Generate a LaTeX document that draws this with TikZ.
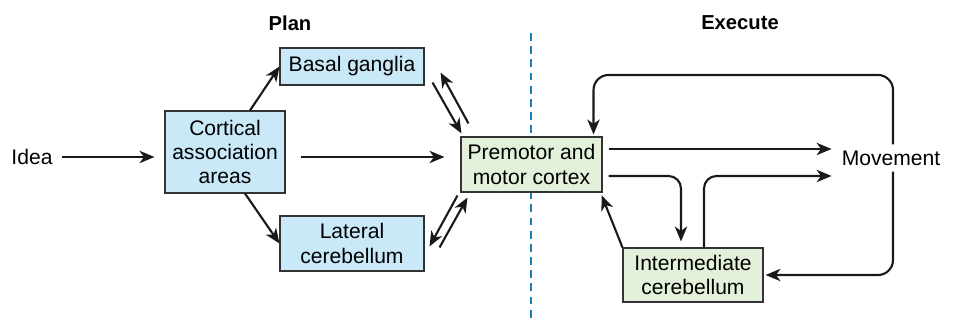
\documentclass[tikz,border=0pt]{standalone}
\usepackage{fontspec}
\setmainfont{Liberation Sans}
\usetikzlibrary{positioning, arrows.meta}
\definecolor{planblue}{HTML}{C9E9F9}
\definecolor{execgreen}{HTML}{E3F0DA}
\definecolor{divblue}{HTML}{1A7FB8}

\begin{document}
\begin{tikzpicture}[
      >={Stealth[length=8.5pt,width=7pt,inset=2.5pt]},
      every node/.style={font=\fontsize{12}{13.7}\selectfont},
      box/.style={draw=black!80,line width=0.6pt,align=center,inner sep=2pt},
      planbox/.style={box,fill=planblue},
      execbox/.style={box,fill=execgreen},
      conn/.style={->,line width=1.2pt,black!90},
      head/.style={font=\fontsize{11.5}{13}\selectfont\bfseries}
    ]
    \useasboundingbox (0,0) rectangle (19.16,-6.42);

    % plan / execute divider
    \coordinate (divtop) at (10.62,-0.66);
    \coordinate (divbot) at (10.62,-6.42);
    \draw[divblue,line width=0.9pt,dash pattern=on 4.5pt off 3pt] (divtop) -- (divbot);

    % headings
    \node[head] (plan) at (5.8,-0.46) {Plan};
    \node[head] (exec) at (14.8,-0.46) {Execute};

    % boxes
    \node (idea) at (0.64,-3.14) {Idea};
    \node[planbox,minimum width=2.4cm,minimum height=1.64cm] (cort) at (4.5,-3.04)
      {Cortical\\association\\areas};
    \node[planbox,minimum width=2.88cm,minimum height=0.74cm] (basal) at (7.04,-1.33)
      {Basal ganglia};
    \node[planbox,minimum width=2.88cm,minimum height=1.1cm] (lat) at (7.04,-4.87)
      {Lateral\\cerebellum};
    \node[execbox,minimum width=2.82cm,minimum height=1.1cm] (prem) at (10.63,-3.29)
      {Premotor and\\motor cortex};
    \node[execbox,minimum width=2.8cm,minimum height=1.08cm] (inter) at (13.86,-5.5)
      {Intermediate\\cerebellum};
    \node (mov) at (17.82,-3.16) {Movement};

    % plan side
    \draw[conn,shorten <=0.06cm,shorten >=0.2cm] (idea) -- (cort.west |- idea);
    \draw[conn,shorten <=0.3cm,shorten >=0.32cm] (cort.east |- idea) -- (prem.west |- idea);
    \draw[conn] ([xshift=0.5cm]cort.north) -- (basal.west);
    \draw[conn] ([xshift=0.4cm]cort.south) -- (lat.west);

    % loops with premotor
    \draw[conn] ([shift={(0.16,0.06)}]basal.south east) -- ([shift={(0.02,0.06)}]prem.north west);
    \draw[conn] ([shift={(0.16,0.26)}]prem.north west) -- ([shift={(0.32,0.26)}]basal.south east);
    \draw[conn] ([shift={(-0.06,-0.06)}]prem.south west) -- ([shift={(0.1,-0.62)}]lat.north east);
    \draw[conn] ([shift={(0.3,-0.64)}]lat.north east) -- ([shift={(0.14,-0.1)}]prem.south west);

    % execute side
    \coordinate (pm1) at ([yshift=0.31cm]prem.east);
    \coordinate (pm2) at ([yshift=-0.23cm]prem.east);
    \draw[conn,shorten <=0.12cm,shorten >=0.08cm] (pm1) -- (pm1 -| mov.west);
    \draw[conn,rounded corners=0.25cm,shorten <=0.12cm,shorten >=0.12cm]
      (pm2) -| ([xshift=-0.24cm]inter.north);
    \draw[conn,rounded corners=0.25cm,shorten >=0.08cm]
      ([xshift=0.22cm]inter.north) |- (pm2 -| mov.west);
    \draw[conn,shorten >=0.06cm] (inter.north west) -- ([xshift=-0.04cm]prem.south east);

    % feedback round movement
    \coordinate (movN) at ([xshift=0.04cm]mov.north);
    \coordinate (movS) at ([xshift=0.04cm]mov.south);
    \coordinate (premN) at ([xshift=-0.18cm]prem.north east);
    \coordinate (loopT) at (0,-1.5);
    \draw[conn,rounded corners=0.3cm,shorten >=0.04cm]
      (movN) -- (movN |- loopT) -- (premN |- loopT) -- (premN);
    \draw[conn,rounded corners=0.3cm,shorten >=0.04cm]
      (movS) |- (inter.east);

\end{tikzpicture}
\end{document}
